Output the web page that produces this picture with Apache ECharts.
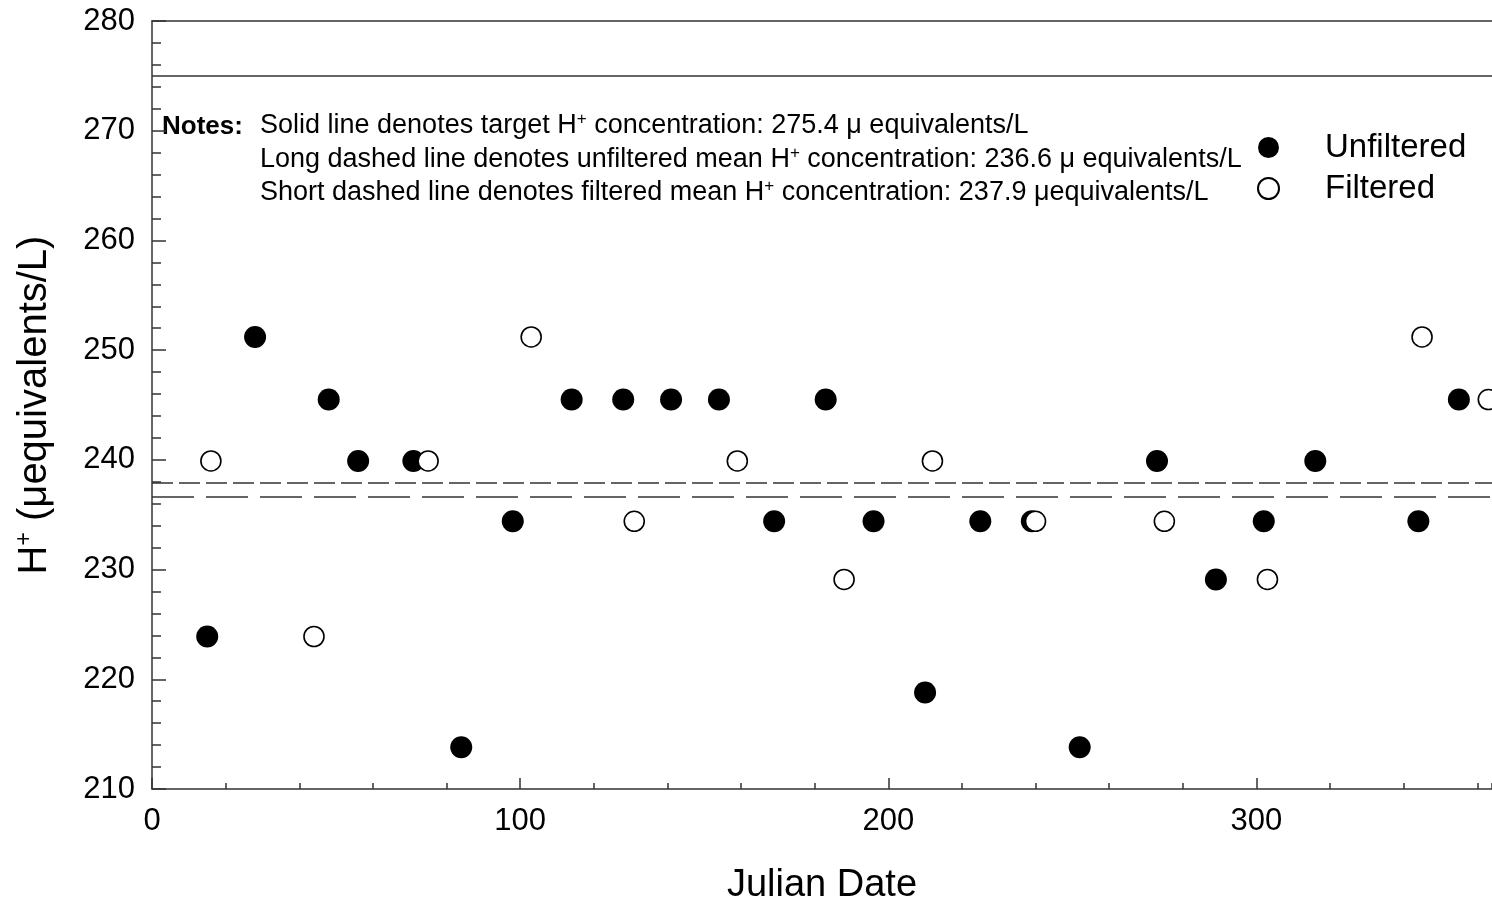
<!DOCTYPE html>
<html><head><meta charset="utf-8">
<script src="https://cdn.jsdelivr.net/npm/echarts@6/dist/echarts.min.js"></script>
<style>html,body{margin:0;padding:0;background:#fff}#c{width:1492px;height:911px}</style>
</head><body><div id="c"></div>
<script>
const unfilteredDays = [15,28,48,56,71,84,98,114,128,141,154,169,183,196,210,225,239,252,273,289,302,316,344,355];
const unfilteredH = [223.9,251.2,245.5,239.9,239.9,213.8,234.4,245.5,245.5,245.5,245.5,234.4,245.5,234.4,218.8,234.4,234.4,213.8,239.9,229.1,234.4,239.9,234.4,245.5];
const filteredDays = [16,44,75,103,131,159,188,212,240,275,303,345,363];
const filteredH = [239.9,223.9,239.9,251.2,234.4,239.9,229.1,239.9,234.4,234.4,229.1,251.2,245.5];
const targetLine = 275.0;
const unfilteredMean = 236.6;
const filteredMean = 237.9;
const xTickLabels = ['0','100','200','300'];
const yTickLabels = ['210','220','230','240','250','260','270','280'];

const FONT = 'Liberation Sans, Arial, sans-serif';
const AX = '#333';
const XMAX = 364;
const chart = echarts.init(document.getElementById('c'), null, {renderer:'canvas'});
const zip = (a,b) => a.map((v,i)=>[v,b[i]]);

const noteRich = {
  n: {fontSize: 27, fontFamily: FONT, color: '#000'},
  s: {fontSize: 17, fontFamily: FONT, color: '#000', verticalAlign: 'top', padding: [0,0,12,0]}
};

chart.setOption({
  animation: false,
  backgroundColor: '#fff',
  grid: {left: 152, top: 21, right: 0, bottom: 122, show: false},
  xAxis: [
    {
      type: 'value', min: 0, max: XMAX, interval: 100, position: 'bottom',
      name: 'Julian Date', nameLocation: 'middle', nameGap: 78,
      nameTextStyle: {fontSize: 38, fontFamily: FONT, color: '#000'},
      axisLine: {lineStyle: {color: AX, width: 1.5}},
      axisTick: {inside: true, length: 11, lineStyle: {color: AX, width: 1.5}},
      splitLine: {show: false},
      axisLabel: {fontSize: 31, fontFamily: FONT, color: '#000', margin: 17, showMaxLabel: false,
        formatter: v => xTickLabels.includes(String(v)) ? String(v) : ''}
    },
    {
      type: 'value', min: 0, max: XMAX, interval: 20, position: 'bottom',
      axisLine: {show: false},
      axisTick: {inside: true, length: 6, lineStyle: {color: AX, width: 1.5}},
      axisLabel: {show: false}, splitLine: {show: false}
    },
    {
      type: 'value', min: 0, max: XMAX, position: 'top',
      axisLine: {show: true, lineStyle: {color: AX, width: 1.5}},
      axisTick: {show: false}, axisLabel: {show: false}, splitLine: {show: false}
    }
  ],
  yAxis: {
    type: 'value', min: 210, max: 280, interval: 10,
    name: '{a|H}{s|+}{a| (μequivalents/L)}', nameLocation: 'middle', nameGap: 96, nameRotate: 90,
    nameTextStyle: {rich: {
      a: {fontSize: 40, fontFamily: FONT, color: '#000'},
      s: {fontSize: 23, fontFamily: FONT, color: '#000', verticalAlign: 'top', padding: [0,0,20,0]}
    }},
    axisLine: {lineStyle: {color: AX, width: 1.5}},
    axisTick: {inside: true, length: 14, lineStyle: {color: AX, width: 1.5}},
    minorTick: {show: true, splitNumber: 5, length: 9, lineStyle: {color: AX, width: 1.5}},
    splitLine: {show: false},
    axisLabel: {fontSize: 31, fontFamily: FONT, color: '#000', margin: 17,
      formatter: v => yTickLabels.includes(String(v)) ? String(v) : ''}
  },
  legend: {
    orient: 'vertical', left: 1252, top: 126, itemWidth: 21, itemHeight: 21, itemGap: 8,
    icon: 'circle',
    textStyle: {fontSize: 33, fontFamily: FONT, color: '#000', padding: [0,0,0,41]},
    data: ['Unfiltered','Filtered']
  },
  graphic: [
    {type: 'text', left: 162, top: 114, style: {text: 'Notes:', font: 'bold 26px ' + FONT, fill: '#000'}},
    {type: 'text', left: 260, top: 111, style: {text: '{n|Solid line denotes target H}{s|+}{n| concentration: 275.4 μ equivalents/L}', rich: noteRich}},
    {type: 'text', left: 260, top: 145, style: {text: '{n|Long dashed line denotes unfiltered mean H}{s|+}{n| concentration: 236.6 μ equivalents/L}', rich: noteRich}},
    {type: 'text', left: 260, top: 178, style: {text: '{n|Short dashed line denotes filtered mean H}{s|+}{n| concentration: 237.9 μequivalents/L}', rich: noteRich}}
  ],
  series: [
    {
      name: 'Unfiltered', type: 'scatter', symbol: 'circle', symbolSize: 22,
      itemStyle: {color: '#000', opacity: 1},
      data: zip(unfilteredDays, unfilteredH),
      markLine: {
        silent: true, symbol: ['none','none'], label: {show: false}, animation: false,
        data: [
          {yAxis: targetLine, lineStyle: {color: AX, width: 1.5, type: 'solid', opacity: 1}},
          {yAxis: unfilteredMean, lineStyle: {color: AX, width: 1.5, type: [42,12], opacity: 1}},
          {yAxis: filteredMean, lineStyle: {color: AX, width: 1.5, type: [21,6], opacity: 1}}
        ]
      },
      z: 3
    },
    {
      name: 'Filtered', type: 'scatter', symbol: 'circle', symbolSize: 20,
      itemStyle: {color: '#fff', borderColor: '#000', borderWidth: 1.6, opacity: 1},
      data: zip(filteredDays, filteredH),
      z: 4
    }
  ]
});
</script>
</body></html>
